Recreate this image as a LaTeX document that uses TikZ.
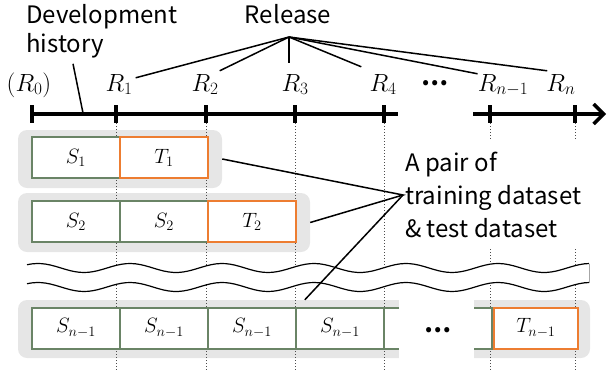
\documentclass[tikz,border=0pt]{standalone}
\usepackage{fontspec}
\setmainfont{Noto Sans CJK JP}
\usetikzlibrary{calc, positioning, arrows.meta}

\definecolor{bggray}{RGB}{230,230,230}
\definecolor{trgreen}{RGB}{106,132,102}
\definecolor{tsorange}{RGB}{237,125,49}

\tikzset{
  txt/.style={font=\fontsize{24}{33}\selectfont, inner sep=0pt},
  rlabel/.style={font=\fontsize{24}{28}\selectfont, inner sep=1pt, anchor=base},
  dots/.style={font=\fontsize{24}{28}\bfseries\selectfont, inner sep=0pt},
  axis/.style={line width=3.5pt},
  tick/.style={line width=3.5pt},
  guide/.style={dash pattern=on 1.3pt off 1.7pt, line width=1pt, black!70},
  callout/.style={line width=1.5pt},
  pairbg/.style={fill=bggray, rounded corners=9pt, inner sep=0pt},
  sbox/.style={draw=trgreen, line width=2pt, fill=white, outer sep=0pt,
    minimum width=88pt, minimum height=41pt, inner sep=0pt,
    font=\fontsize{20}{24}\selectfont},
  tbox/.style={sbox, draw=tsorange},
  openbox/.style={draw=trgreen, line width=2pt, fill=white},
  wave/.style={line width=1.2pt, samples=120},
}

\begin{document}
\begin{tikzpicture}[x=1pt, y=-1pt, >={Straight Barb[length=10pt, width=20pt]}]
    \useasboundingbox (0,0) rectangle (607,370);
    \coordinate (bottom) at (0,370);

    % 1. Timeline points
    \coordinate (tick0) at (32,114);
    \coordinate (tick1) at (116,114);
    \coordinate (tick2) at (206,114);
    \coordinate (tick3) at (295,114);
    \coordinate (tick4) at (384,114);
    \coordinate (tickn1) at (490,114);
    \coordinate (tickn) at (575,114);
    \coordinate (axisbreak) at (398,114);
    \coordinate (axisresume) at (473,114);
    \coordinate (axisend) at (606,114);

    % 2. Grey backgrounds of the pairs
    \node[pairbg, minimum width=204pt, minimum height=58pt] (bg1) at (120,159) {};
    \node[pairbg, minimum width=292pt, minimum height=59pt] (bg2) at (164,222.5) {};
    \node[pairbg, minimum width=572pt, minimum height=58pt] (bg3) at (304,329) {};
    \fill[white] (399,295) rectangle (474,362);

    % 3. Dotted guides under the releases
    \foreach \t in {tick1,tick2,tick3,tick4,tickn1,tickn}
        \draw[guide] (\t) -- (\t |- bottom);

    % 4. Datasets
    \node[sbox] (s1) at (76,157.5) {$S_1$};
    \node[tbox, right=0pt of s1] (t1) {$T_1$};

    \node[sbox] (s21) at (76,221.5) {$S_2$};
    \node[sbox, right=0pt of s21] (s22) {$S_2$};
    \node[tbox, right=0pt of s22] (t2) {$T_2$};

    \node[sbox] (s31) at (76,328) {$S_{n-1}$};
    \node[sbox, right=0pt of s31] (s32) {$S_{n-1}$};
    \node[sbox, right=0pt of s32] (s33) {$S_{n-1}$};
    \node[tbox, minimum width=84pt] (t3) at (536,328) {$T_{n-1}$};
    \fill[white] ($(s33.north east)+(1,1)$) rectangle ($(s33.south east)+(103,-1)$);
    \draw[trgreen, line width=2pt] ($(s33.north east)+(103,0)$) -| ($(s33.north east)+(88,0)$)
        |- ($(s33.south east)+(103,0)$);
    \draw[trgreen, line width=2pt] (s33.north east) -- ++(103,0);
    \draw[trgreen, line width=2pt] (s33.south east) -- ++(103,0);
    \node[sbox, draw=none, fill=none, right=0pt of s33] (s34) {$S_{n-1}$};
    \draw[openbox] ($(t3.north west)+(-20,0)$) -- ($(t3.north west)+(-2,0)$)
        -- ($(t3.south west)+(-2,0)$) -- ($(t3.south west)+(-20,0)$);
    \node[dots] (rowdots) at (438,330) {…};

    % 5. Break between the rows
    \fill[white, samples=120] plot[domain=27:589] (\x,{268-4.5*cos(3.913*(\x-130))})
        -- plot[domain=589:27] (\x,{287-4.5*cos(3.913*(\x-130))}) -- cycle;
    \draw[wave, domain=27:589] plot (\x,{268-4.5*cos(3.913*(\x-130))});
    \draw[wave, domain=27:589] plot (\x,{287-4.5*cos(3.913*(\x-130))});
    \draw[black!35, line width=0.6pt] (589,{268-4.5*cos(3.913*459)}) -- (589,{287-4.5*cos(3.913*459)});

    % 6. Time axis
    \draw[axis] (tick0) -- (axisbreak);
    \draw[axis, ->] (axisresume) -- (axisend);
    \foreach \t in {tick0,tick1,tick2,tick3,tick4,tickn1,tickn}
        \draw[tick] ($(\t)+(0,-9)$) -- ($(\t)+(0,9)$);

    \node[rlabel] (lab0) at (29,91) {$(R_0)$};
    \node[rlabel] (lab1) at (119,91) {$R_1$};
    \node[rlabel] (lab2) at (205,91) {$R_2$};
    \node[rlabel] (lab3) at (295,91) {$R_3$};
    \node[rlabel] (lab4) at (383,91) {$R_4$};
    \node[dots] (labdots) at (435,83) {…};
    \node[rlabel] (labn1) at (503,91) {$R_{n-1}$};
    \node[rlabel] (labn) at (561,91) {$R_n$};

    % 7. Texts and call-outs
    \node[txt, anchor=base west] (dev) at (26,23) {Development};
    \node[txt, anchor=base west] (hist) at (26,52) {history};
    \coordinate (devtip) at (83,113);
    \draw[callout] ($(hist.south west)+(47,6)$) -- (devtip);

    \node[txt, anchor=base] (rel) at (288,23) {Release};
    \coordinate (relhub) at (289,37);
    \draw[callout] (relhub) -- ([shift={(2,5)}]lab1.north east);
    \draw[callout] (relhub) -- ([shift={(0,-2)}]lab2.north east);
    \draw[callout] (relhub) -- ([shift={(-6,-10)}]lab3.north);
    \draw[callout] (relhub) -- ([shift={(-7,-6)}]lab4.north west);
    \draw[callout] (relhub) -- ([shift={(1,1)}]labn1.north west);
    \draw[callout] (relhub) -- ([shift={(2,-2)}]labn.north west);

    \node[txt, align=left, anchor=west, fill=white,
        inner xsep=2pt, inner ysep=11pt] (pair) at (403,195)
        {A pair of\\training dataset\\\& test dataset};
    \draw[callout] (bg1.east) -- (pair.west) -- (bg2.east);
    \draw[callout] (pair.west) -- ($(bg3.north west)+(287,0)$);
\end{tikzpicture}
\end{document}
